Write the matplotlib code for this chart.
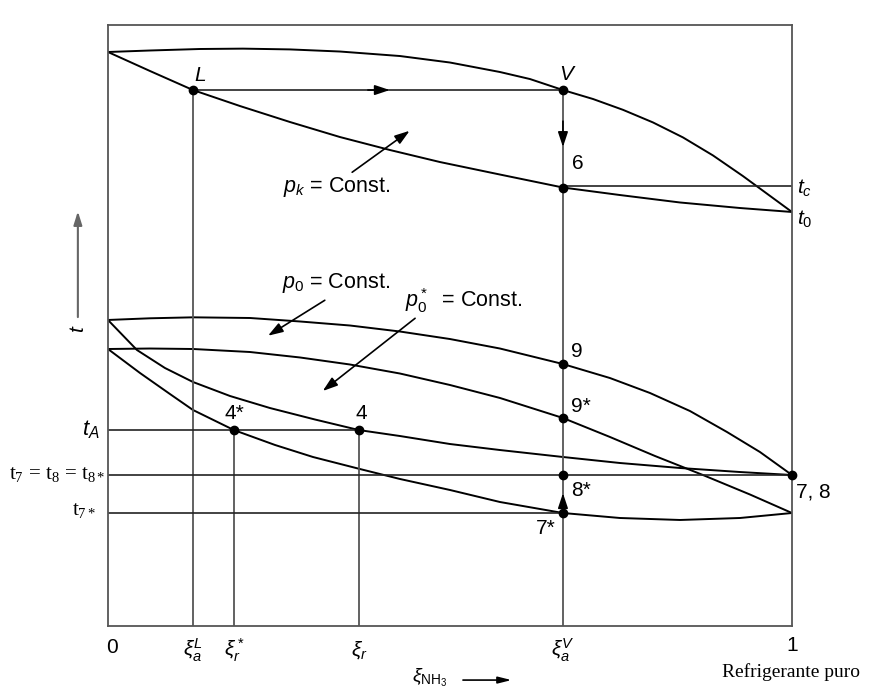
import matplotlib.pyplot as plt

plt.rcParams['mathtext.fontset'] = 'custom'
plt.rcParams['mathtext.rm'] = 'Liberation Sans'
plt.rcParams['mathtext.it'] = 'Liberation Sans:italic'
plt.rcParams['mathtext.bf'] = 'Liberation Sans:bold'

# composition (NH3 mass fraction) of the marked states
xi_aL = 0.1243
xi_r_star = 0.1842
xi_r = 0.367
xi_aV = 0.6652

# temperature levels (arbitrary units, 0..100)
t_L = 89.18
t_6 = 72.96
t_c = 73.2
t_9 = 43.59
t_9s = 34.61
t_A = 32.6
t_7 = 25.12
t_7s = 18.8

# high pressure p_k: dew line and boiling line
pk_dew_x = [0, .0614, .1345, .1974, .2661, .3392, .4269, .5, .5731, .6170, .6652,
            .7091, .7529, .7968, .8406, .8845, .9284, 1]
pk_dew_t = [95.51, 95.76, 96.01, 96.07, 95.94, 95.59, 94.84, 93.76, 92.18, 91.01, 89.18,
            87.69, 85.89, 83.79, 81.30, 78.30, 74.86, 68.89]
pk_boil_x = [0, .0614, .1243, .1930, .2661, .3392, .4123, .4854, .5731, .6652, .7485,
             .8363, .9240, 1]
pk_boil_t = [95.51, 92.35, 89.18, 86.52, 83.86, 81.36, 79.20, 77.20, 75.12, 72.96, 71.71,
             70.47, 69.55, 68.89]

# low pressure p_0
p0_dew_x = [0, .0614, .1243, .2076, .2807, .3538, .4269, .5, .5731, .6652, .7339, .7924,
            .8509, .9050, .9532, 1]
p0_dew_t = [50.92, 51.20, 51.36, 51.25, 50.67, 50.0, 49.0, 47.75, 46.17, 43.59, 41.26, 38.77,
            35.77, 32.28, 28.95, 25.12]
p0_boil_x = [0, .0424, .0833, .1243, .1784, .2368, .3026, .367, .4269, .5, .5731, .6652,
             .7485, .8363, .9240, 1]
p0_boil_t = [50.92, 45.92, 42.93, 40.60, 38.27, 36.27, 34.36, 32.6, 31.61, 30.28, 29.28, 28.12,
             27.12, 26.29, 25.62, 25.12]

# reduced pressure p_0*
p0s_dew_x = [0, .0614, .1243, .2076, .2807, .3538, .4269, .5, .5731, .6652, .7339, .7997,
             .8699, .9386, 1]
p0s_dew_t = [46.09, 46.17, 46.09, 45.59, 44.68, 43.51, 42.01, 40.10, 37.94, 34.61, 31.45, 28.29,
             25.12, 21.88, 18.80]
p0s_boil_x = [0, .0468, .0906, .1243, .1842, .2442, .2997, .3684, .4269, .5, .5731, .6652,
              .7485, .8363, .9240, 1]
p0s_boil_t = [46.09, 42.10, 38.60, 35.94, 32.6, 30.12, 28.12, 26.12, 24.46, 22.63, 20.63, 18.80,
              17.97, 17.64, 17.97, 18.80]

fig = plt.figure(figsize=(8.7, 6.93), dpi=100)
ax = fig.add_axes([0.1241, 0.0967, 0.7862, 0.8672])
ax.set_xlim(0, 1)
ax.set_ylim(0, 100)
ax.set_xticks([])
ax.set_yticks([])
for s in ax.spines.values():
    s.set_color('#555555')
    s.set_linewidth(1.3)

curve = dict(color='black', lw=1.4, solid_joinstyle='round', solid_capstyle='round')
ax.plot(pk_dew_x, pk_dew_t, **curve)
ax.plot(pk_boil_x, pk_boil_t, **curve)
ax.plot(p0_dew_x, p0_dew_t, **curve)
ax.plot(p0_boil_x, p0_boil_t, **curve)
ax.plot(p0s_dew_x, p0s_dew_t, **curve)
ax.plot(p0s_boil_x, p0s_boil_t, **curve)

# construction lines
vline = dict(color='#555555', lw=1.3)
hline = dict(color='#222222', lw=1.2)
ax.plot([xi_aL, xi_aL], [0, t_L], **vline)
ax.plot([xi_r_star, xi_r_star], [0, t_A], **vline)
ax.plot([xi_r, xi_r], [0, t_A], **vline)
ax.plot([xi_aV, xi_aV], [0, t_L], **vline)
ax.plot([xi_aL, xi_aV], [t_L, t_L], **hline)
ax.plot([xi_aV, 1], [t_c, t_c], **hline)
ax.plot([0, xi_r], [t_A, t_A], **hline)
ax.plot([0, 1], [t_7, t_7], **hline)
ax.plot([0, xi_aV], [t_7s, t_7s], **hline)

# state points
pts_x = [xi_aL, xi_aV, xi_aV, xi_aV, xi_aV, xi_aV, xi_aV, xi_r_star, xi_r, 1]
pts_t = [t_L, t_L, t_6, t_9, t_9s, t_7, t_7s, t_A, t_A, t_7]
ax.plot(pts_x, pts_t, 'o', color='black', ms=6, clip_on=False, zorder=5)

head = dict(arrowstyle='-|>,head_length=0.9,head_width=0.3', color='black', lw=1.2,
            shrinkA=0, shrinkB=0)
ax.annotate('', xy=(0.412, t_L), xytext=(0.38, t_L), arrowprops=head)
ax.annotate('', xy=(xi_aV, 79.7), xytext=(xi_aV, 84), arrowprops=head)
ax.annotate('', xy=(xi_aV, 22.1), xytext=(xi_aV, 19.5), arrowprops=head)
ax.annotate('', xy=(0.441, 82.4), xytext=(0.357, 75.5), arrowprops=head)
ax.annotate('', xy=(0.234, 48.3), xytext=(0.317, 54.2), arrowprops=head)
ax.annotate('', xy=(0.314, 39.1), xytext=(0.449, 51.2), arrowprops=head)

fs = 15
sans = 'Liberation Sans'
serif = 'Liberation Serif'
ax.text(0.135, 91.6, 'L', fontsize=fs, family=sans, style='italic', ha='center', va='center')
ax.text(0.67, 91.8, 'V', fontsize=fs, family=sans, style='italic', ha='center', va='center')
ax.text(0.678, 77.0, '6', fontsize=fs, family=sans, ha='left', va='center')
ax.text(1.007, 72.9, '$t_c$', fontsize=fs, ha='left', va='center')
ax.text(1.007, 67.6, '$t_0$', fontsize=fs, ha='left', va='center')
ax.text(0.256, 73.0, '$p_k$ = Const.', fontsize=15.5, family=sans, ha='left', va='center')
ax.text(0.254, 57.1, '$p_0$ = Const.', fontsize=15.5, family=sans, ha='left', va='center')
ax.text(0.434, 54.2, r'$p_0^*$  = Const.', fontsize=15.5, family=sans, ha='left', va='center')
ax.text(0.677, 45.6, '9', fontsize=fs, family=sans, ha='left', va='center')
ax.text(0.677, 36.6, '9*', fontsize=fs, family=sans, ha='left', va='center')
ax.text(0.677, 22.5, '8*', fontsize=fs, family=sans, ha='left', va='center')
ax.text(0.655, 16.3, '7*', fontsize=fs, family=sans, ha='right', va='center')
ax.text(xi_r_star, 35.3, '4*', fontsize=fs, family=sans, ha='center', va='center')
ax.text(xi_r + 0.003, 35.3, '4', fontsize=fs, family=sans, ha='center', va='center')
ax.text(1.006, 22.3, '7, 8', fontsize=fs, family=sans, ha='left', va='center')

# temperature labels on the left
ax.text(-0.012, 32.6, '$t_A$', fontsize=fs + 1, ha='right', va='center')
ax.text(-0.003, 25.1, r't$_\mathregular{7}$ = t$_\mathregular{8}$ = t$_\mathregular{8*}$',
        fontsize=fs, family=serif, ha='right', va='center')
ax.text(-0.017, 19.0, r't$_\mathregular{7*}$', fontsize=fs, family=serif,
        ha='right', va='center')
ax.text(-0.044, 49.4, '$t$', fontsize=fs, rotation=90, ha='center', va='center')
ax.annotate('', xy=(-0.044, 69.0), xytext=(-0.044, 51.4), xycoords='data',
            arrowprops=dict(arrowstyle='-|>,head_length=0.8,head_width=0.25',
                            color='#666666', lw=1.5, shrinkA=0, shrinkB=0),
            annotation_clip=False)

# composition axis
ax.text(0.006, -3.6, '0', fontsize=fs, family=sans, ha='center', va='center')
ax.text(xi_aL, -4.0, r'$\xi_a^L$', fontsize=fs, ha='center', va='center')
ax.text(xi_r_star, -4.0, r'$\xi_r^*$', fontsize=fs, ha='center', va='center')
ax.text(xi_r, -4.0, r'$\xi_r$', fontsize=fs, ha='center', va='center')
ax.text(xi_aV, -4.0, r'$\xi_a^V$', fontsize=fs, ha='center', va='center')
ax.text(1.0, -3.3, '1', fontsize=fs, family=sans, ha='center', va='center')
ax.text(0.998, -7.6, 'Refrigerante puro', fontsize=14, family=serif,
        ha='center', va='center')
ax.text(0.47, -8.7, r'$\xi_{\mathrm{NH_3}}$', fontsize=14, ha='center', va='center')
ax.annotate('', xy=(0.59, -9.0), xytext=(0.519, -9.0),
            arrowprops=dict(arrowstyle='-|>,head_length=0.8,head_width=0.2',
                            color='black', lw=1.2, shrinkA=0, shrinkB=0),
            annotation_clip=False)

fig.savefig('out.png', dpi=100)
